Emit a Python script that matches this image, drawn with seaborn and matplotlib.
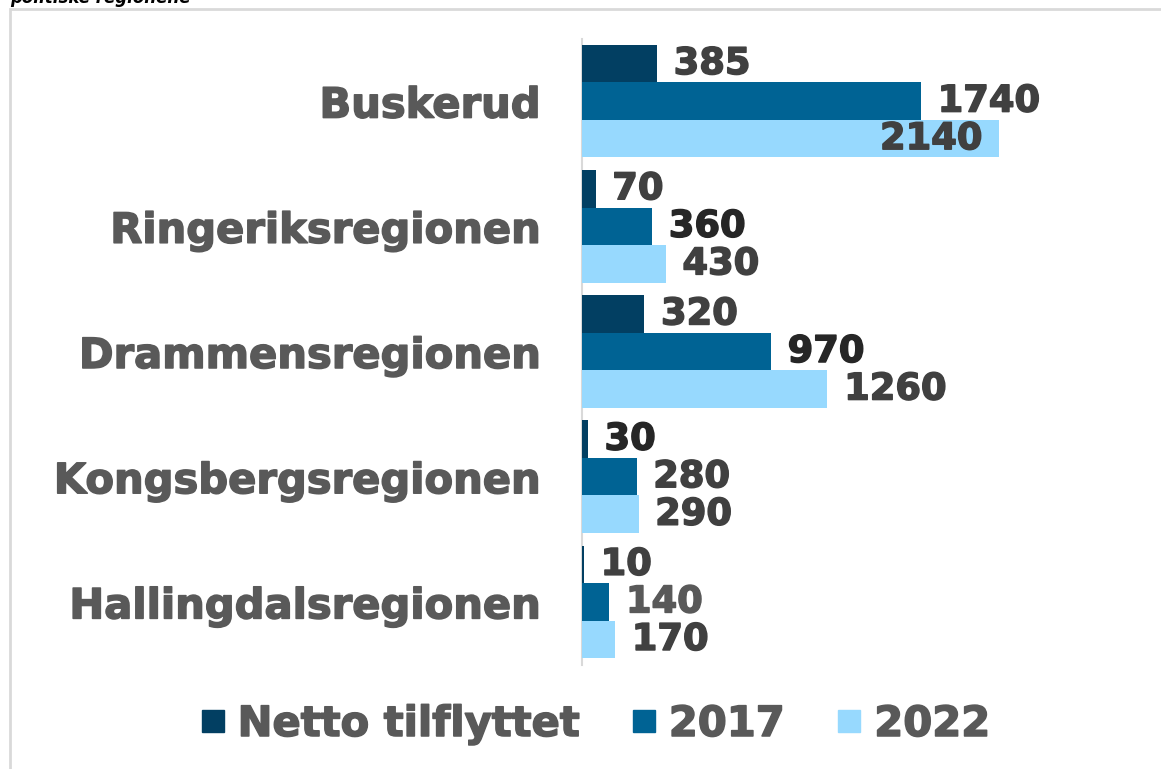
import matplotlib
matplotlib.use("Agg")
import matplotlib.pyplot as plt
import matplotlib.patheffects as pe
from matplotlib.lines import Line2D
from matplotlib.patches import Rectangle
import seaborn as sns
import pandas as pd

regions = ["Buskerud", "Ringeriksregionen", "Drammensregionen", "Kongsbergsregionen", "Hallingdalsregionen"]
series_names = ["Netto tilflyttet", "2017", "2022"]
netto = [385, 70, 320, 30, 10]
v2017 = [1740, 360, 970, 280, 140]
v2022 = [2140, 430, 1260, 290, 170]
colors = ["#023F62", "#006394", "#97D9FE"]
label_colors = [
    ["#404040", "#404040", "#404040", "#262626", "#404040"],
    ["#404040", "#262626", "#262626", "#404040", "#595959"],
    ["#404040", "#404040", "#404040", "#404040", "#404040"],
]
title_text = "politiske regionene"

rows = []
for name, vals in zip(series_names, [netto, v2017, v2022]):
    for r, v in zip(regions, vals):
        rows.append({"region": r, "series": name, "value": v})
df = pd.DataFrame(rows)

sns.set_style("white")
plt.rcParams["font.family"] = ["DejaVu Sans"]


def heavy(color, w=1.1):
    return [pe.withStroke(linewidth=w, foreground=color)]


W, H = 1161, 769
fig = plt.figure(figsize=(W / 100, H / 100), dpi=100)
ax_left, ax_right = 582, 1147
ax_top, ax_bot = 38.5, 664.5
ax = fig.add_axes([ax_left / W, 1 - ax_bot / H, (ax_right - ax_left) / W, (ax_bot - ax_top) / H])

sns.barplot(data=df, y="region", x="value", hue="series", order=regions,
            hue_order=series_names, palette=colors, orient="h", width=0.9,
            saturation=1, ax=ax, legend=False, linewidth=0, edgecolor="none")

ax.set_xlim(0, 2900)
ax.set_ylim(4.5, -0.5)
ax.set_xlabel("")
ax.set_ylabel("")
ax.set_xticks([])
for s in ["top", "right", "bottom"]:
    ax.spines[s].set_visible(False)
ax.spines["left"].set_color("#d9d9d9")
ax.spines["left"].set_linewidth(1.5)
ax.spines["left"].set_zorder(0.5)
ax.tick_params(axis="y", length=0, pad=30)
for lbl in ax.get_yticklabels():
    lbl.set_fontsize(30)
    lbl.set_fontweight("bold")
    lbl.set_color("#595959")
    lbl.set_path_effects(heavy("#595959"))

for si, cont in enumerate(ax.containers):
    for ri, bar in enumerate(cont):
        val = bar.get_width()
        yc = bar.get_y() + bar.get_height() / 2
        txt = f"{int(round(val))}"
        c = label_colors[si][ri]
        if val > 2000:
            ax.annotate(txt, (val, yc), xytext=(-12, 0), textcoords="offset points",
                        ha="right", va="center", fontsize=26.5, fontweight="bold",
                        color=c, path_effects=heavy(c))
        else:
            ax.annotate(txt, (val, yc), xytext=(12, 0), textcoords="offset points",
                        ha="left", va="center", fontsize=26.5, fontweight="bold",
                        color=c, path_effects=heavy(c))

handles = [Line2D([0], [0], marker="s", linestyle="none", markersize=16.5,
                  markerfacecolor=c, markeredgecolor=c) for c in colors]
leg = fig.legend(handles, series_names, loc="center", bbox_to_anchor=(595 / W, 1 - 724 / H),
                 ncol=3, frameon=False, handlelength=0.6, handletextpad=0.3,
                 columnspacing=1.25, prop={"size": 30, "weight": "bold"})
for t in leg.get_texts():
    t.set_color("#595959")
    t.set_path_effects(heavy("#595959"))

fig.patches.append(Rectangle((10 / W, -0.1), 1.2, 1 - 9 / H + 0.1, transform=fig.transFigure,
                             fill=False, edgecolor="#d9d9d9", linewidth=2))
fig.text(10 / W, 1 - 3 / H, title_text, ha="left", va="baseline", fontsize=12,
         fontweight="bold", fontstyle="italic", color="black")

fig.savefig("out.png", dpi=100)
